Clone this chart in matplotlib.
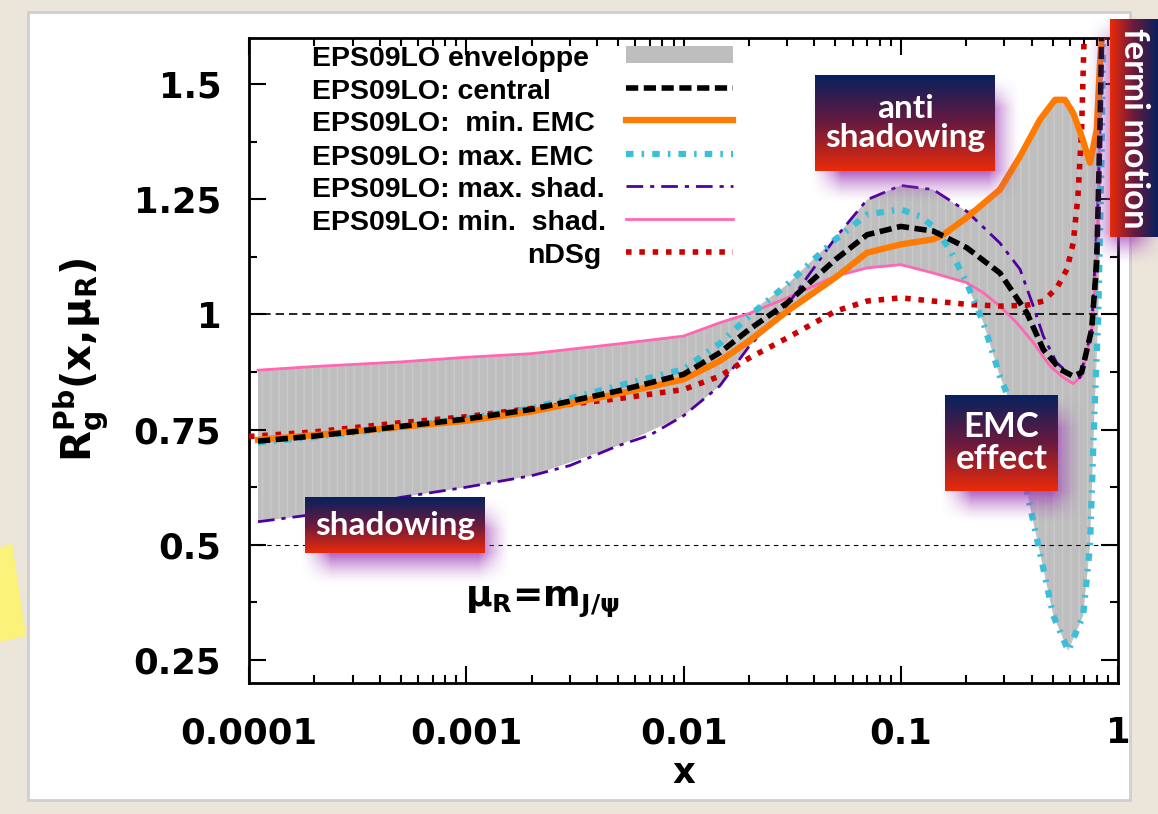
import numpy as np
import matplotlib
matplotlib.use('Agg')
import matplotlib.pyplot as plt
from matplotlib.colors import LinearSegmentedColormap, to_rgb
from matplotlib.patches import Rectangle, Polygon

plt.rcParams['font.family'] = ['DejaVu Sans']
plt.rcParams['font.weight'] = 'bold'
plt.rcParams['mathtext.fontset'] = 'dejavusans'
plt.rcParams['mathtext.default'] = 'bf'

# ---- data ----
band_x = [1.1e-4, 2e-4, 5e-4, 1e-3, 2e-3, 5e-3, 0.01, 0.0147, 0.02, 0.03, 0.05, 0.07, 0.1,
          0.141, 0.2, 0.24, 0.286, 0.307, 0.393, 0.504, 0.59, 0.691, 0.743, 0.783, 0.811, 0.841, 0.853]
band_hi = [0.879, 0.887, 0.897, 0.907, 0.915, 0.936, 0.953, 0.982, 1.002, 1.065, 1.166, 1.249, 1.28,
           1.271, 1.224, 1.24, 1.271, 1.30, 1.38, 1.463, 1.466, 1.39, 1.33, 1.38, 1.45, 1.6, 1.6]
band_lo = [0.55, 0.566, 0.603, 0.625, 0.65, 0.715, 0.78, 0.845, 0.93, 1.007, 1.08, 1.101, 1.108,
           1.09, 1.069, 0.982, 0.866, 0.83, 0.584, 0.346, 0.27, 0.346, 0.498, 0.816, 0.996, 1.358, 1.6]

central_x = [1.1e-4, 2e-4, 5e-4, 1e-3, 2e-3, 5e-3, 0.01, 0.0147, 0.02, 0.03, 0.05, 0.07, 0.1,
             0.141, 0.201, 0.286, 0.380, 0.453, 0.541, 0.622, 0.680, 0.756, 0.798, 0.826, 0.841]
central_y = [0.725, 0.736, 0.757, 0.773, 0.794, 0.834, 0.870, 0.917, 0.967, 1.025, 1.119, 1.173, 1.191,
             1.181, 1.145, 1.09, 1.004, 0.924, 0.881, 0.866, 0.874, 0.967, 1.112, 1.401, 1.6]

min_emc_x = [1.1e-4, 2e-4, 5e-4, 1e-3, 2e-3, 5e-3, 0.01, 0.0147, 0.02, 0.03, 0.05, 0.07, 0.1,
             0.141, 0.157, 0.201, 0.286, 0.354, 0.4375, 0.513, 0.570, 0.622, 0.680, 0.743, 0.798, 0.826, 0.841]
min_emc_y = [0.728, 0.738, 0.756, 0.769, 0.789, 0.828, 0.859, 0.899, 0.942, 1.007, 1.080, 1.134, 1.152,
             1.163, 1.173, 1.21, 1.271, 1.343, 1.423, 1.466, 1.466, 1.437, 1.387, 1.329, 1.401, 1.546, 1.6]

max_emc_x = [1.1e-4, 2e-4, 5e-4, 1e-3, 2e-3, 5e-3, 0.01, 0.0147, 0.02, 0.03, 0.05, 0.07, 0.1,
             0.1227, 0.141, 0.1685, 0.201, 0.240, 0.286, 0.307, 0.3935, 0.504, 0.590, 0.691, 0.743,
             0.783, 0.811, 0.841, 0.853]
max_emc_y = [0.722, 0.734, 0.755, 0.774, 0.796, 0.845, 0.881, 0.937, 0.996, 1.065, 1.163, 1.217, 1.228,
             1.213, 1.191, 1.141, 1.069, 0.982, 0.866, 0.83, 0.584, 0.346, 0.27, 0.346, 0.498,
             0.816, 0.996, 1.358, 1.6]

max_shad_x = [1.1e-4, 2e-4, 5e-4, 1e-3, 2e-3, 3e-3, 5e-3, 7e-3, 0.01, 0.0147, 0.02, 0.03, 0.05, 0.07, 0.1,
              0.141, 0.201, 0.286, 0.354, 0.4075, 0.453, 0.522, 0.601, 0.668, 0.756, 0.811, 0.841]
max_shad_y = [0.55, 0.566, 0.603, 0.625, 0.65, 0.672, 0.715, 0.738, 0.78, 0.845, 0.93, 1.02, 1.166, 1.249, 1.28,
              1.271, 1.224, 1.155, 1.098, 1.018, 0.953, 0.895, 0.87, 0.863, 0.967, 1.256, 1.6]

min_shad_x = [1.1e-4, 2e-4, 5e-4, 1e-3, 2e-3, 5e-3, 0.01, 0.0147, 0.02, 0.03, 0.05, 0.07, 0.1,
              0.141, 0.201, 0.240, 0.286, 0.3418, 0.4075, 0.4864, 0.560, 0.622, 0.680, 0.756, 0.798, 0.826, 0.841]
min_shad_y = [0.879, 0.887, 0.897, 0.907, 0.915, 0.936, 0.953, 0.982, 1.002, 1.036, 1.083, 1.101, 1.108,
              1.09, 1.069, 1.047, 1.018, 0.982, 0.939, 0.888, 0.863, 0.85, 0.866, 0.967, 1.112, 1.401, 1.6]

ndsg_x = [1e-4, 2e-4, 5e-4, 1e-3, 2e-3, 5e-3, 0.01, 0.0147, 0.02, 0.03, 0.05, 0.07, 0.1,
          0.141, 0.201, 0.286, 0.380, 0.453, 0.524, 0.582, 0.622, 0.654, 0.680, 0.698]
ndsg_y = [0.735, 0.745, 0.765, 0.778, 0.796, 0.817, 0.837, 0.866, 0.905, 0.949, 1.007, 1.029, 1.036,
          1.029, 1.022, 1.018, 1.02, 1.029, 1.058, 1.098, 1.155, 1.256, 1.401, 1.6]

labels = ['EPS09LO enveloppe', 'EPS09LO: central', 'EPS09LO:  min. EMC', 'EPS09LO: max. EMC',
          'EPS09LO: max. shad.', 'EPS09LO: min.  shad.', 'nDSg']
x_ticks = [1e-4, 1e-3, 1e-2, 1e-1, 1]
x_ticklabels = ['0.0001', '0.001', '0.01', '0.1', '1']
y_ticks = [0.25, 0.5, 0.75, 1, 1.25, 1.5]
y_ticklabels = ['0.25', '0.5', '0.75', '1', '1.25', '1.5']

W, H = 1158, 814


def px_rect(l, t, r, b):
    return [l / W, 1 - b / H, (r - l) / W, (b - t) / H]


fig = plt.figure(figsize=(W / 100, H / 100), dpi=100)
fig.patch.set_facecolor('#ebe5da')
# white paper panel + yellow note
fig.add_artist(Rectangle((28 / W, 1 - 800 / H), (1130 - 28) / W, (800 - 12) / H,
                         transform=fig.transFigure, fc='white', ec='#cfcfcf', lw=2, zorder=0))
fig.add_artist(Polygon([(0, 1 - 548 / H), (12 / W, 1 - 543 / H), (26 / W, 1 - 636 / H), (0, 1 - 642 / H)],
                       transform=fig.transFigure, fc='#fbf27a', ec='none', zorder=0))

ax = fig.add_axes(px_rect(249, 38, 1118, 683))
ax.set_zorder(2)

# envelope band
ax.fill_between(band_x, band_lo, band_hi, facecolor='#bebebe', edgecolor='#cacaca',
                hatch='||', linewidth=0, zorder=1)

ax.axhline(1, color='black', lw=1.2, ls=(0, (5, 3)), zorder=2)
ax.axhline(0.5, color='black', lw=0.8, ls=(0, (4, 4)), zorder=2)

sty_central = dict(color='black', lw=4, ls=(0, (2.2, 1.0)))
sty_min_emc = dict(color='#ff7a00', lw=4.5, ls='-')
sty_max_emc = dict(color='#3bbfd8', lw=4.5, ls=(0, (1.2, 1.3, 0.4, 1.3)))
sty_max_shad = dict(color='#5000a0', lw=2, ls=(0, (6, 2.5, 1.5, 2.5)))
sty_min_shad = dict(color='#ff66b3', lw=2, ls='-')
sty_ndsg = dict(color='#cc0000', lw=4, ls=(0, (1, 1.4)))

ax.plot(min_shad_x, min_shad_y, zorder=3, **sty_min_shad)
ax.plot(max_shad_x, max_shad_y, zorder=3, **sty_max_shad)
ax.plot(ndsg_x, ndsg_y, zorder=3, **sty_ndsg)
ax.plot(max_emc_x, max_emc_y, zorder=4, **sty_max_emc)
ax.plot(min_emc_x, min_emc_y, zorder=4, **sty_min_emc)
ax.plot(central_x, central_y, zorder=5, **sty_central)

ax.set_xscale('log')
ax.set_xlim(1e-4, 1)
ax.set_ylim(0.2, 1.6)
ax.set_xticks(x_ticks)
ax.set_xticklabels(x_ticklabels)
ax.set_yticks(y_ticks)
ax.set_yticklabels(y_ticklabels)
ax.set_yticks(np.arange(0.375, 1.6, 0.25), minor=True)
ax.xaxis.set_minor_formatter(matplotlib.ticker.NullFormatter())
ax.tick_params(which='both', direction='in', top=True, right=True, width=1.5, labelsize=25.5)
ax.tick_params(which='major', length=12)
ax.tick_params(which='minor', length=6)
ax.tick_params(axis='x', pad=24)
ax.tick_params(axis='y', pad=20)
for s in ax.spines.values():
    s.set_linewidth(2)

ax.set_xlabel('x', fontsize=25.5, fontweight='bold', labelpad=4)
fig.text(82 / W, 1 - 360 / H, r'$R_g^{Pb}(x,\!\mu_R)$', rotation=90, fontsize=29,
         ha='center', va='center')
fig.text(465 / W, 1 - 602 / H, r'$\mu_R$=m$_{J/\psi}$', fontsize=26, va='center')

# hand-made legend (text left, sample right), positions in axes fraction
sample_y = [0.974, 0.9226, 0.873, 0.8204, 0.771, 0.7198, 0.6687]
styles = [None, sty_central, sty_min_emc, sty_max_emc, sty_max_shad, sty_min_shad, sty_ndsg]
leg_font = ['Liberation Sans', 'DejaVu Sans']
for lab, yy, st in zip(labels, sample_y, styles):
    if st is None:
        ax.add_patch(Rectangle((0.434, yy - 0.013), 0.123, 0.026, transform=ax.transAxes,
                               fc='#bebebe', ec='none', zorder=6))
    else:
        ax.plot([0.434, 0.557], [yy, yy], transform=ax.transAxes, zorder=6, **st)
    if lab == 'nDSg':
        ax.text(0.405, yy - 0.007, lab, transform=ax.transAxes, ha='right', va='center',
                fontsize=20.5, family=leg_font)
    else:
        ax.text(0.073, yy - 0.007, lab, transform=ax.transAxes, ha='left', va='center',
                fontsize=20.5, family=leg_font)

# gradient label boxes with purple glow
cmap = LinearSegmentedColormap.from_list('nr', ['#06215e', '#6a1a3e', '#ec2a08'])
glow = to_rgb('#a040b8')


def label_box(l, t, r, b, text, size, vertical=False, dx=10, dy=16):
    pad = 16
    sax = fig.add_axes(px_rect(l + dx - pad, t + dy - pad, r + dx + pad, b + dy + pad))
    sax.set_zorder(3)
    sax.axis('off')
    nw, nh = int(r - l + 2 * pad), int(b - t + 2 * pad)
    xs, ys = np.arange(nw), np.arange(nh)
    axx = np.clip(np.minimum(xs, nw - 1 - xs) / (2 * pad), 0, 1)
    ayy = np.clip(np.minimum(ys, nh - 1 - ys) / (2 * pad), 0, 1)
    alpha = np.outer(ayy, axx) ** 1.5 * 0.85
    img = np.zeros((nh, nw, 4))
    img[..., :3] = glow
    img[..., 3] = alpha
    sax.imshow(img, aspect='auto', interpolation='bilinear')
    bax = fig.add_axes(px_rect(l, t, r, b))
    bax.set_zorder(4)
    bax.axis('off')
    if vertical:
        grad = np.linspace(1, 0, 256).reshape(1, -1)
    else:
        grad = np.linspace(0, 1, 256).reshape(-1, 1)
    bax.imshow(grad, aspect='auto', cmap=cmap, vmin=0, vmax=1)
    bax.text(0.5, 0.5, text, transform=bax.transAxes, ha='center', va='center', color='white',
             fontsize=size, fontweight='bold', family=['Lato', 'DejaVu Sans'],
             rotation=-90 if vertical else 0, linespacing=1.0)


label_box(815, 75, 995, 171, 'anti\nshadowing', 24)
label_box(945, 395, 1058, 491, 'EMC\neffect', 25)
label_box(305, 497, 485, 553, 'shadowing', 24)
label_box(1110, 19, 1158, 237, 'fermi motion', 25, vertical=True, dx=-8, dy=12)

fig.savefig('out.png', dpi=100, facecolor=fig.get_facecolor())
